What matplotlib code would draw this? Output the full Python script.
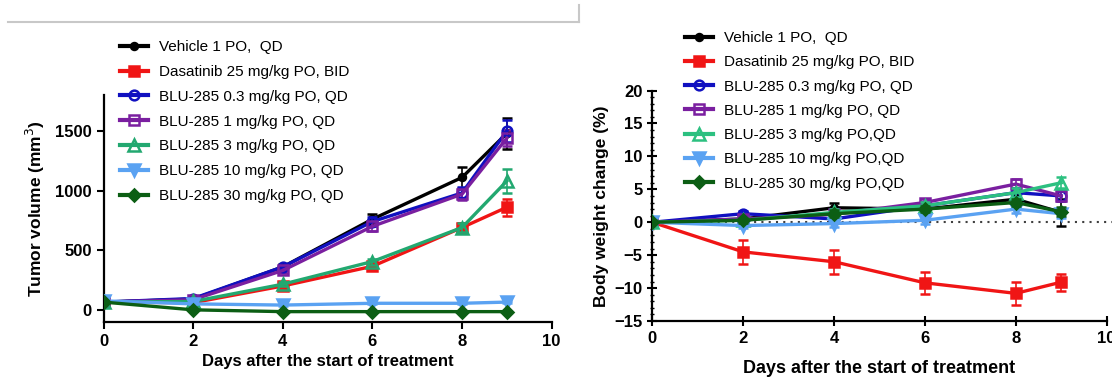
import numpy as np
import matplotlib.pyplot as plt
from matplotlib.lines import Line2D
from matplotlib.ticker import MultipleLocator

plt.rcParams['font.family'] = ['Liberation Sans', 'DejaVu Sans']

days = [0, 2, 4, 6, 8, 9]

# tumor volume (mm3), left panel
labels_tv = ["Vehicle 1 PO,  QD", "Dasatinib 25 mg/kg PO, BID", "BLU-285 0.3 mg/kg PO, QD",
             "BLU-285 1 mg/kg PO, QD", "BLU-285 3 mg/kg PO, QD", "BLU-285 10 mg/kg PO, QD",
             "BLU-285 30 mg/kg PO, QD"]
tv_vehicle = [65, 90, 360, 760, 1110, 1480]
tv_vehicle_err = [10, 10, 25, 40, 90, 130]
tv_dasatinib = [65, 60, 200, 365, 690, 860]
tv_dasatinib_err = [10, 8, 15, 25, 40, 70]
tv_blu03 = [65, 95, 360, 740, 980, 1500]
tv_blu03_err = [10, 10, 20, 35, 50, 90]
tv_blu1 = [65, 85, 330, 700, 970, 1440]
tv_blu1_err = [10, 10, 25, 35, 45, 70]
tv_blu3 = [65, 70, 215, 405, 690, 1080]
tv_blu3_err = [10, 8, 15, 25, 35, 100]
tv_blu10 = [75, 50, 40, 55, 55, 65]
tv_blu10_err = [8, 5, 5, 5, 5, 8]
tv_blu30 = [65, 0, -15, -15, -15, -15]
tv_blu30_err = [8, 3, 3, 3, 3, 3]

# body weight change (%), right panel
labels_bw = ["Vehicle 1 PO,  QD", "Dasatinib 25 mg/kg PO, BID", "BLU-285 0.3 mg/kg PO, QD",
             "BLU-285 1 mg/kg PO, QD", "BLU-285 3 mg/kg PO,QD", "BLU-285 10 mg/kg PO,QD",
             "BLU-285 30 mg/kg PO,QD"]
bw_vehicle = [0, 0.5, 2.2, 2.0, 3.5, 1.5]
bw_vehicle_err = [0.3, 0.5, 0.8, 0.6, 0.8, 2.0]
bw_dasatinib = [0, -4.5, -6.0, -9.2, -10.8, -9.1]
bw_dasatinib_err = [0.3, 1.8, 1.8, 1.7, 1.7, 1.3]
bw_blu03 = [0, 1.3, 0.5, 2.5, 4.5, 4.0]
bw_blu03_err = [0.3, 0.4, 0.5, 0.6, 0.7, 0.8]
bw_blu1 = [0, 0.5, 1.2, 3.0, 5.8, 4.0]
bw_blu1_err = [0.3, 0.4, 0.5, 0.6, 0.7, 0.8]
bw_blu3 = [0, 0.3, 1.5, 2.5, 4.5, 6.0]
bw_blu3_err = [0.3, 0.4, 0.5, 0.6, 0.7, 0.8]
bw_blu10 = [0, -0.5, -0.2, 0.3, 2.0, 1.3]
bw_blu10_err = [0.3, 0.4, 0.5, 0.5, 0.6, 0.6]
bw_blu30 = [0, 0.3, 1.3, 2.0, 3.0, 1.6]
bw_blu30_err = [0.3, 0.4, 0.5, 0.5, 0.6, 0.7]

colors = ["#000000", "#f01515", "#1010c0", "#7a1fa0", "#22a870", "#5aa2f2", "#0c5e14"]
markers = ["o", "s", "o", "s", "^", "v", "D"]
filled = [True, True, False, False, False, True, True]
msizes = [5, 6.5, 7, 7, 8, 8, 6]

tv_series = [(tv_vehicle, tv_vehicle_err), (tv_dasatinib, tv_dasatinib_err),
             (tv_blu03, tv_blu03_err), (tv_blu1, tv_blu1_err), (tv_blu3, tv_blu3_err),
             (tv_blu10, tv_blu10_err), (tv_blu30, tv_blu30_err)]
bw_series = [(bw_vehicle, bw_vehicle_err), (bw_dasatinib, bw_dasatinib_err),
             (bw_blu03, bw_blu03_err), (bw_blu1, bw_blu1_err), (bw_blu3, bw_blu3_err),
             (bw_blu10, bw_blu10_err), (bw_blu30, bw_blu30_err)]


def draw(ax, series, right=False):
    for i, (vals, err) in enumerate(series):
        c = colors[i]
        if right and i == 4:
            c = "#2cc080"
        ax.errorbar(days, vals, yerr=err, color=c, lw=2.4, marker=markers[i],
                    ms=msizes[i], mec=c, mew=1.8,
                    mfc=c if filled[i] else "none",
                    capsize=3.5, elinewidth=1.2, capthick=1.2, zorder=3 + i * 0.1)
    for s in ["top", "right"]:
        ax.spines[s].set_visible(False)
    for s in ["left", "bottom"]:
        ax.spines[s].set_linewidth(1.6)
    ax.set_xlim(0, 10)
    ax.set_xticks([0, 2, 4, 6, 8, 10])
    for lab in ax.get_xticklabels() + ax.get_yticklabels():
        lab.set_fontweight("bold")
    ax.tick_params(labelsize=12, width=1.5, length=5)


fig = plt.figure(figsize=(11.12, 3.79), dpi=100)

# left panel: tumor volume
ax1 = fig.add_axes([0.0931, 0.151, 0.403, 0.598])
draw(ax1, tv_series)
ax1.set_ylim(-100, 1800)
ax1.set_yticks([0, 500, 1000, 1500])
ax1.spines["left"].set_bounds(-100, 1800)
ax1.set_ylabel("Tumor volume (mm$^3$)", fontsize=12.5, fontweight="bold", labelpad=6)
ax1.set_xlabel("Days after the start of treatment", fontsize=12, fontweight="bold", labelpad=4)
ax1.tick_params(labelsize=12)

# right panel: body weight change
ax2 = fig.add_axes([0.5866, 0.153, 0.4086, 0.608])
draw(ax2, bw_series, right=True)
ax2.set_ylim(-15, 20)
ax2.set_yticks([-15, -10, -5, 0, 5, 10, 15, 20])
ax2.yaxis.set_minor_locator(MultipleLocator(1))
ax2.tick_params(axis="y", which="minor", direction="inout", length=3, width=1)
ax2.tick_params(axis="both", which="major", direction="inout", length=7)
ax2.plot([0, 10.2], [0, 0], ls=(0, (1, 2.5)), color="#404040", lw=1.5, clip_on=False, zorder=1)
ax2.set_ylabel("Body weight change (%)", fontsize=12.5, fontweight="bold", labelpad=4)
ax2.set_xlabel("Days after the start of treatment", fontsize=13, fontweight="bold", labelpad=10)

# legends above the axes
def handles():
    hs = []
    for i in range(7):
        hs.append(Line2D([], [], color=colors[i], lw=3, marker=markers[i], ms=msizes[i],
                         mec=colors[i], mew=1.8, mfc=colors[i] if filled[i] else "none"))
    return hs

hs_r = handles()
hs_r[4].set_color("#2cc080"); hs_r[4].set_mec("#2cc080")

ax1.legend(handles(), labels_tv, loc="upper left", bbox_to_anchor=(114 / 1112, 1 - 34 / 379),
           bbox_transform=fig.transFigure, frameon=False, fontsize=11, handlelength=1.8,
           handletextpad=0.75, labelspacing=0.71, borderaxespad=0)
ax2.legend(hs_r, labels_bw, loc="upper left", bbox_to_anchor=(679 / 1112, 1 - 25 / 379),
           bbox_transform=fig.transFigure, frameon=False, fontsize=11, handlelength=1.8,
           handletextpad=0.75, labelspacing=0.67, borderaxespad=0)

# grey frame fragment at the top
fig.add_artist(Line2D([8 / 1112, 579 / 1112], [1 - 21.5 / 379, 1 - 21.5 / 379],
                      color="#c8c8c8", lw=1.5, transform=fig.transFigure))
fig.add_artist(Line2D([579 / 1112, 579 / 1112], [1 - 21.5 / 379, 1 - 5 / 379],
                      color="#c8c8c8", lw=1.5, transform=fig.transFigure))

fig.savefig("out.png", dpi=100)
